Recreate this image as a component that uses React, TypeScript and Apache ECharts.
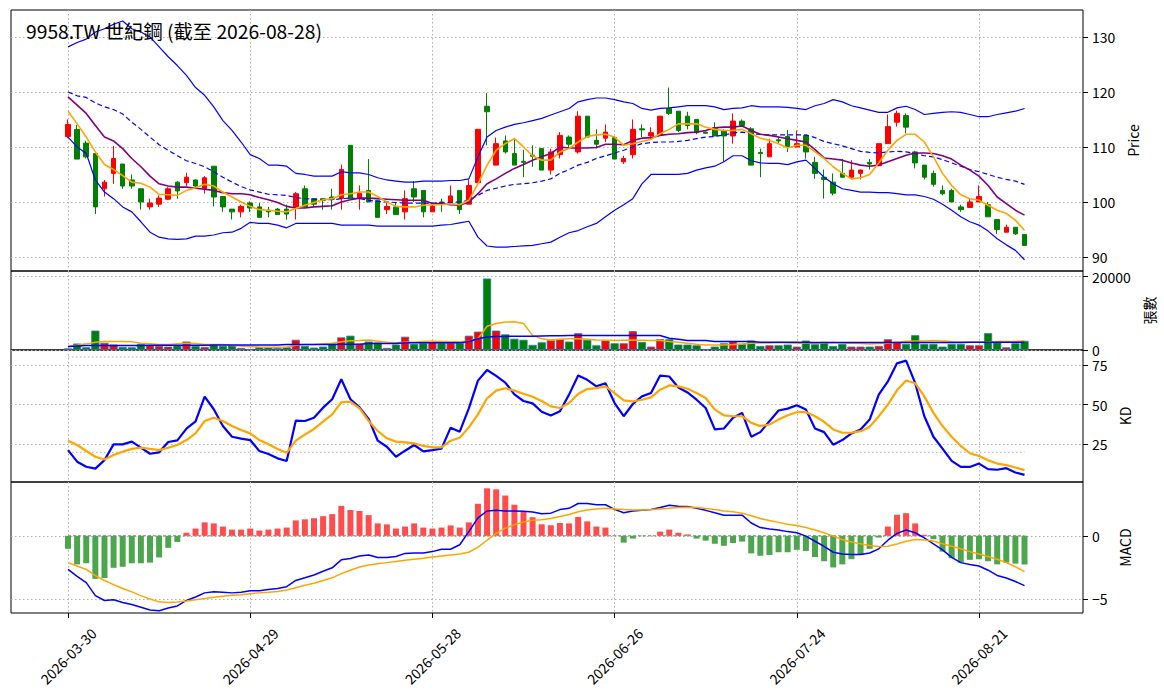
import React, { useEffect, useRef } from "react";
import * as echarts from "echarts";

// ---------- categories (trading days) ----------
const MONTH_DAYS: [string, number[]][] = [
  ["03", [30, 31]],
  ["04", [1, 2, 7, 8, 9, 10, 13, 14, 15, 16, 17, 20, 21, 22, 23, 24, 27, 28, 29, 30]],
  ["05", [4, 5, 6, 7, 8, 11, 12, 13, 14, 15, 18, 19, 20, 21, 22, 25, 26, 27, 28, 29]],
  ["06", [1, 2, 3, 4, 5, 8, 9, 10, 11, 12, 15, 16, 17, 18, 22, 23, 24, 25, 26, 29, 30]],
  ["07", [1, 2, 3, 6, 7, 8, 9, 10, 13, 14, 15, 16, 17, 20, 21, 22, 23, 24, 27, 28, 29, 30, 31]],
  ["08", [3, 4, 5, 6, 7, 10, 11, 12, 13, 14, 17, 18, 19, 20, 21, 24, 25, 26, 27, 28]],
];
const DATES: string[] = MONTH_DAYS.flatMap(([m, ds]) =>
  ds.map((d) => `2026-${m}-${String(d).padStart(2, "0")}`)
);
const X_TICKS = [0, 20, 40, 60, 80, 100];

const TITLE = "9958.TW 世紀鋼 (截至 2026-08-28)";
const PRICE_TICKS = [90, 100, 110, 120, 130];
const VOL_TICKS = [0, 20000];
const KD_TICKS = [25, 50, 75];
const MACD_TICKS = [-5, 0];

// ---------- price ----------
const OPEN = [
  111.9, 113.2, 110.7, 108.8, 102.4, 105.2, 106.9, 104.0, 102.4, 99.1,
  99.6, 100.5, 103.6, 103.5, 104.0, 102.4, 106.5, 101.0, 98.7, 98.2,
  99.8, 99.1, 98.5, 98.7, 98.7, 99.1, 102.4, 100.6, 100.6, 100.9,
  100.6, 110.3, 100.6, 102.1, 100.3, 98.6, 99.1, 98.2, 102.4, 102.1,
  98.2, 100.0, 100.0, 102.1, 99.6, 103.5, 117.4, 106.7, 111.1, 108.8,
  107.4, 108.5, 109.7, 105.8, 108.6, 111.8, 109.1, 115.6, 111.2, 111.6,
  111.7, 107.3, 108.6, 113.3, 112.0, 112.1, 117.0, 116.5, 115.6, 115.0,
  112.7, 113.5, 112.9, 112.0, 114.7, 113.3, 109.0, 108.2, 111.3, 111.9,
  110.0, 112.1, 107.2, 104.5, 103.6, 105.2, 104.5, 105.2, 107.2, 106.6,
  110.6, 114.5, 115.7, 109.1, 106.7, 105.2, 102.1, 102.1, 99.1, 99.0,
  100.0, 99.5, 96.8, 94.5, 95.4, 94.1,
];
const CLOSE = [
  114.1, 107.8, 108.2, 99.1, 103.6, 107.9, 102.9, 102.9, 100.0, 99.8,
  100.7, 102.4, 102.0, 104.5, 102.9, 104.4, 100.9, 99.1, 98.2, 99.2,
  98.9, 97.2, 98.2, 97.7, 97.8, 101.5, 99.1, 99.6, 100.3, 100.5,
  105.9, 100.6, 101.6, 100.0, 97.2, 99.2, 97.7, 100.6, 100.9, 98.2,
  99.2, 99.7, 101.1, 98.6, 103.0, 113.2, 116.4, 110.6, 109.1, 106.7,
  107.2, 108.3, 105.8, 109.1, 112.1, 110.5, 115.6, 111.8, 110.5, 112.7,
  107.8, 107.9, 113.2, 113.1, 112.6, 115.6, 116.1, 113.0, 113.9, 112.6,
  112.5, 112.0, 112.0, 114.7, 113.9, 106.7, 108.8, 110.6, 111.1, 110.0,
  110.6, 109.1, 105.2, 104.1, 101.6, 104.5, 105.8, 105.8, 106.9, 110.6,
  113.7, 116.1, 113.6, 107.1, 104.5, 103.2, 101.5, 100.0, 98.6, 100.0,
  101.0, 97.3, 95.0, 95.4, 94.2, 92.1,
];
const LOW = [
  111.6, 107.8, 107.9, 97.8, 101.0, 103.3, 102.4, 102.4, 98.6, 98.6,
  99.1, 100.4, 100.6, 102.9, 102.6, 101.5, 99.2, 98.2, 96.8, 97.2,
  98.2, 97.2, 97.2, 97.7, 96.8, 96.8, 99.0, 99.1, 98.6, 98.6,
  98.6, 100.6, 98.6, 100.0, 97.2, 97.8, 97.6, 96.8, 100.0, 97.2,
  98.2, 98.2, 99.7, 97.8, 99.6, 103.5, 110.3, 106.7, 108.8, 106.7,
  104.5, 106.4, 105.8, 105.0, 107.9, 110.0, 108.8, 111.8, 109.7, 110.9,
  107.8, 106.9, 107.9, 111.8, 111.5, 112.1, 115.8, 112.7, 113.2, 112.3,
  112.4, 112.0, 107.3, 110.6, 113.6, 106.6, 104.5, 108.2, 110.6, 109.1,
  110.0, 107.9, 104.2, 100.6, 101.2, 104.5, 104.1, 104.1, 105.9, 106.5,
  110.6, 113.7, 112.5, 106.1, 104.1, 102.8, 101.2, 100.0, 98.2, 99.0,
  100.0, 97.3, 94.2, 94.5, 94.0, 92.1,
];
const HIGH = [
  115.0, 114.0, 111.1, 109.0, 104.0, 110.2, 106.9, 105.0, 102.4, 100.6,
  101.2, 102.7, 103.8, 105.3, 104.1, 104.7, 106.5, 101.0, 98.7, 99.5,
  100.1, 99.8, 99.1, 98.9, 99.5, 101.8, 103.0, 100.7, 100.7, 102.4,
  106.8, 110.3, 103.0, 107.8, 100.3, 100.0, 99.8, 102.1, 103.8, 102.1,
  99.7, 100.6, 103.0, 102.1, 104.1, 113.2, 119.8, 111.7, 112.1, 111.5,
  109.5, 110.3, 109.7, 109.7, 112.7, 112.1, 116.5, 115.6, 113.2, 114.1,
  112.0, 108.4, 115.0, 114.1, 113.6, 115.6, 120.8, 116.5, 116.4, 115.0,
  112.8, 114.5, 113.2, 116.1, 115.0, 113.6, 109.7, 111.5, 111.8, 113.1,
  113.0, 112.1, 108.2, 105.9, 105.2, 107.8, 107.6, 105.9, 107.8, 110.6,
  115.9, 116.6, 116.1, 109.3, 106.7, 105.7, 103.0, 102.4, 99.5, 100.6,
  103.0, 100.0, 96.8, 95.9, 95.4, 94.1,
];
const MA5 = [
  116.5, 114.2, 111.8, 109.1, 106.8, 105.9, 104.8, 103.6, 103.4, 102.7,
  101.4, 101.3, 101.2, 102.1, 102.6, 103.2, 102.9, 101.8, 100.9, 100.0,
  99.2, 98.6, 98.5, 98.3, 98.2, 98.8, 99.4, 99.9, 100.4, 100.6,
  101.3, 101.5, 101.8, 101.8, 101.0, 100.0, 99.2, 99.1, 99.1, 99.4,
  99.5, 99.5, 99.7, 99.5, 100.3, 103.3, 106.7, 109.4, 110.6, 111.5,
  110.0, 108.4, 107.6, 107.6, 109.1, 109.7, 110.9, 111.9, 112.2, 112.3,
  111.8, 110.3, 110.6, 111.0, 111.4, 112.4, 113.2, 114.2, 114.2, 114.2,
  113.6, 113.2, 113.0, 113.0, 113.2, 112.4, 111.6, 111.2, 110.6, 109.8,
  110.3, 110.3, 109.1, 107.9, 106.4, 105.2, 104.2, 104.4, 105.0, 107.1,
  109.4, 111.2, 112.3, 112.3, 110.9, 108.2, 105.2, 103.0, 101.3, 100.6,
  100.3, 99.4, 98.5, 97.9, 96.7, 94.8,
];
const MA10 = [
  119.1, 117.6, 116.1, 113.9, 111.8, 111.1, 109.7, 107.9, 106.4, 104.7,
  103.3, 102.9, 102.7, 102.7, 102.5, 102.3, 102.1, 101.7, 101.5, 101.5,
  101.3, 100.8, 100.4, 99.9, 99.2, 98.9, 98.9, 99.1, 99.2, 99.3,
  100.0, 100.4, 100.7, 100.7, 100.6, 100.5, 100.4, 100.3, 100.3, 100.3,
  99.7, 99.7, 99.5, 99.4, 100.0, 101.5, 103.3, 104.2, 105.2, 106.1,
  106.8, 107.6, 108.2, 108.8, 110.0, 109.8, 109.8, 109.8, 109.9, 110.5,
  110.5, 110.4, 111.2, 111.6, 111.7, 112.1, 112.3, 112.4, 112.6, 112.7,
  113.0, 113.5, 113.6, 113.6, 113.8, 113.0, 112.3, 112.1, 111.8, 111.5,
  111.2, 110.9, 109.5, 108.0, 107.8, 107.6, 107.1, 106.7, 106.5, 106.7,
  107.3, 107.9, 108.5, 108.9, 108.9, 108.8, 108.4, 107.8, 106.7, 105.8,
  104.7, 103.0, 100.9, 99.7, 98.5, 97.6,
];
const BB_MID = [
  120.0, 119.3, 119.0, 118.0, 117.3, 116.8, 116.0, 114.5, 113.2, 111.8,
  110.4, 109.4, 108.4, 107.5, 107.0, 106.4, 105.5, 104.5, 103.6, 102.8,
  102.2, 101.8, 101.4, 101.3, 101.2, 100.8, 100.6, 100.5, 100.4, 100.4,
  100.6, 100.7, 100.6, 100.3, 100.1, 100.0, 99.9, 99.8, 99.8, 99.8,
  99.8, 99.8, 99.9, 100.0, 100.3, 101.2, 102.1, 102.5, 102.9, 103.2,
  103.3, 103.5, 103.8, 104.2, 105.2, 105.9, 106.7, 107.2, 107.9, 108.4,
  108.9, 109.4, 110.0, 110.6, 110.8, 110.9, 110.9, 111.0, 111.2, 111.5,
  111.8, 111.9, 112.2, 112.5, 112.7, 112.4, 112.3, 112.2, 112.2, 112.2,
  112.2, 112.2, 111.7, 111.0, 110.6, 110.2, 109.7, 109.2, 109.0, 108.9,
  109.1, 109.2, 109.1, 108.8, 108.4, 108.2, 107.7, 107.1, 106.5, 105.9,
  105.5, 105.0, 104.5, 104.1, 103.8, 103.2,
];
const BB_UP = [
  128.2, 129.0, 129.6, 130.9, 131.5, 132.3, 132.9, 131.5, 130.9, 130.0,
  128.2, 126.4, 124.8, 123.0, 120.8, 119.4, 117.3, 114.8, 113.0, 110.9,
  108.6, 107.9, 106.7, 106.7, 106.5, 105.2, 105.0, 104.7, 104.7, 104.7,
  105.5, 105.3, 105.3, 105.0, 104.4, 104.0, 103.8, 103.6, 103.6, 103.8,
  103.8, 103.8, 103.9, 103.9, 104.2, 108.2, 111.8, 113.0, 113.6, 114.1,
  114.4, 114.8, 115.2, 115.8, 116.4, 117.0, 118.2, 118.6, 118.9, 118.9,
  118.6, 118.2, 117.9, 117.0, 116.7, 117.0, 117.1, 117.3, 117.5, 117.5,
  117.5, 117.3, 116.8, 117.0, 117.1, 117.5, 117.3, 117.3, 117.3, 117.2,
  117.0, 116.8, 117.5, 117.9, 118.6, 118.2, 117.5, 117.1, 116.7, 116.3,
  116.3, 117.1, 117.4, 116.8, 115.9, 116.1, 116.3, 116.4, 116.3, 115.9,
  115.5, 115.5, 115.9, 116.2, 116.5, 117.0,
];
const BB_LOW = [
  111.8, 110.0, 108.8, 104.0, 101.8, 100.6, 99.1, 98.2, 96.4, 94.5,
  93.6, 93.3, 93.2, 93.3, 93.8, 93.8, 94.0, 94.4, 94.5, 95.2,
  96.3, 96.1, 96.1, 95.8, 95.3, 96.1, 96.1, 96.1, 96.1, 96.1,
  95.8, 95.8, 95.8, 95.8, 95.6, 95.6, 95.6, 95.6, 95.6, 95.6,
  95.6, 95.8, 95.9, 96.2, 96.5, 93.6, 92.0, 91.8, 91.8, 91.9,
  92.0, 92.1, 92.4, 92.7, 93.6, 94.4, 94.8, 95.5, 96.1, 97.3,
  98.5, 99.5, 100.6, 103.3, 105.0, 105.0, 105.0, 105.0, 105.2, 105.8,
  106.2, 106.5, 107.3, 108.4, 108.4, 107.5, 107.1, 107.0, 107.0, 106.8,
  107.3, 107.6, 106.1, 104.5, 103.3, 102.4, 102.1, 101.8, 101.8, 101.7,
  101.7, 101.5, 101.3, 101.3, 101.0, 100.5, 99.6, 98.5, 97.3, 96.4,
  95.8, 94.7, 93.3, 92.2, 91.2, 89.5,
];

// ---------- volume (張) ----------
const VOLUME = [
  450, 1760, 740, 5280, 1950, 1480, 830, 740, 1670, 1300,
  1110, 930, 1200, 2300, 1110, 830, 1570, 1110, 1200, 560,
  300, 740, 740, 560, 740, 2780, 1110, 650, 930, 1670,
  3430, 3890, 1670, 2300, 2040, 560, 1480, 3610, 1670, 1850,
  2410, 1950, 1950, 1950, 3890, 5000, 19450, 5280, 4260, 3060,
  2780, 1390, 2100, 2650, 2930, 2290, 4590, 2750, 1280, 2570,
  1830, 1830, 5140, 2200, 920, 2930, 2930, 1470, 1470, 1280,
  280, 920, 1830, 2380, 1650, 2570, 1100, 1280, 1280, 1470,
  920, 2570, 1560, 2200, 1100, 1650, 920, 920, 920, 1100,
  2930, 2200, 1650, 4030, 1650, 1650, 920, 1650, 1650, 1280,
  1280, 4590, 2020, 730, 1830, 2480,
];
const VOL_MA5 = [
  930, 1300, 1670, 2130, 2320, 2320, 2320, 2220, 1850, 1670,
  1480, 1480, 1670, 1850, 1760, 1480, 1480, 1480, 1200, 1110,
  930, 830, 740, 740, 830, 1300, 1480, 1480, 1670, 1850,
  2220, 2500, 2590, 2690, 2410, 2130, 1940, 2130, 2130, 2320,
  2410, 2320, 2220, 2220, 2410, 3060, 6480, 7220, 7590, 7690,
  7220, 3980, 3060, 2750, 2930, 3030, 3030, 2930, 2750, 2660,
  2570, 2660, 2750, 2660, 2570, 2570, 2290, 2110, 1830, 1560,
  1380, 1380, 1380, 1470, 1650, 1830, 1920, 1920, 2020, 1920,
  1830, 1830, 1830, 1920, 2020, 1920, 1830, 1740, 1650, 1740,
  1830, 2110, 2380, 2480, 2480, 2570, 2480, 2290, 2200, 2110,
  2110, 2200, 2290, 2290, 2380, 2480,
];
const VOL_MA20 = [
  930, 1110, 1200, 1200, 1200, 1200, 1200, 1200, 1200, 1300,
  1300, 1300, 1300, 1300, 1300, 1300, 1390, 1390, 1390, 1390,
  1390, 1390, 1390, 1390, 1480, 1480, 1480, 1480, 1480, 1480,
  1570, 1570, 1570, 1760, 1760, 1760, 1760, 1940, 1940, 1940,
  1940, 1940, 1940, 1940, 2320, 3060, 3520, 3700, 3700, 3750,
  3750, 3750, 3800, 3850, 3900, 3940, 3940, 3940, 3940, 3940,
  3940, 3940, 3940, 3940, 3940, 3940, 3210, 2930, 2570, 2570,
  2570, 2290, 2290, 2290, 2290, 2290, 2110, 2110, 2110, 2110,
  2110, 2020, 2020, 2020, 2020, 2020, 2020, 2020, 2020, 2020,
  2020, 2020, 2020, 2020, 2020, 2020, 2020, 2020, 2020, 2110,
  2110, 2110, 2110, 2110, 2110, 2110,
];

// ---------- KD ----------
const K = [
  21.4, 14.1, 10.9, 9.7, 15.1, 25.0, 25.0, 26.7, 22.9, 19.1,
  20.0, 26.5, 27.5, 34.9, 39.5, 55.0, 47.1, 36.6, 29.8, 28.6,
  27.7, 20.8, 18.9, 16.2, 14.5, 39.9, 39.7, 41.8, 48.1, 53.4,
  66.0, 53.4, 48.3, 41.0, 27.3, 23.5, 17.2, 21.0, 24.6, 20.6,
  21.4, 22.3, 35.5, 33.0, 47.7, 65.1, 71.8, 68.1, 63.9, 56.5,
  52.3, 50.8, 45.5, 43.2, 45.8, 56.3, 68.3, 65.6, 61.5, 63.5,
  51.0, 42.7, 50.4, 55.2, 57.3, 68.3, 67.7, 60.8, 57.7, 53.1,
  47.9, 34.4, 35.0, 41.7, 44.8, 29.8, 32.7, 39.6, 46.3, 47.5,
  49.6, 46.9, 35.0, 32.7, 24.8, 27.7, 31.9, 34.4, 40.6, 56.3,
  64.6, 76.0, 77.7, 63.5, 42.7, 29.8, 22.3, 14.6, 10.8, 10.8,
  12.9, 9.4, 9.0, 10.0, 7.3, 5.8,
];
const D = [
  27.3, 24.6, 20.8, 17.2, 15.5, 18.3, 20.4, 22.1, 22.9, 22.1,
  21.4, 22.9, 24.6, 27.7, 31.9, 39.7, 41.8, 39.7, 36.6, 34.0,
  31.9, 27.7, 25.0, 22.1, 19.7, 27.3, 31.1, 34.7, 39.3, 43.9,
  51.5, 51.9, 47.7, 39.7, 33.4, 28.8, 26.7, 26.3, 25.6, 24.0,
  23.1, 23.1, 27.3, 29.2, 35.7, 43.9, 54.0, 58.8, 60.3, 58.8,
  56.9, 55.0, 52.3, 48.9, 47.9, 51.0, 56.7, 59.8, 60.4, 61.5,
  57.3, 52.7, 52.1, 53.1, 54.6, 59.4, 62.1, 61.5, 60.0, 57.3,
  54.2, 46.9, 43.3, 42.7, 42.7, 38.5, 36.5, 37.5, 40.6, 43.3,
  45.2, 45.4, 42.7, 39.2, 34.4, 32.3, 32.3, 33.3, 36.0, 42.7,
  50.0, 59.0, 65.2, 63.5, 55.2, 44.8, 36.5, 29.8, 24.0, 19.4,
  17.7, 15.0, 12.9, 11.9, 10.4, 8.8,
];
const KD_REF = [80, 20];

// ---------- MACD ----------
const HIST = [
  -1.03, -2.26, -2.17, -3.4, -3.34, -2.53, -2.45, -2.17, -2.17, -2.12,
  -1.71, -0.95, -0.49, 0.24, 0.57, 1.06, 0.98, 0.73, 0.49, 0.49,
  0.57, 0.41, 0.49, 0.57, 0.65, 1.22, 1.3, 1.39, 1.55, 1.71,
  2.36, 2.04, 1.96, 1.63, 0.98, 0.9, 0.57, 0.73, 0.98, 0.65,
  0.57, 0.65, 0.82, 0.65, 1.06, 2.53, 3.75, 3.67, 3.18, 2.45,
  1.88, 1.47, 0.91, 0.83, 1.01, 0.98, 1.49, 1.14, 0.73, 0.65,
  0.02, -0.54, -0.22, -0.03, 0.02, 0.33, 0.49, 0.24, 0.11, -0.22,
  -0.38, -0.63, -0.79, -0.57, -0.46, -1.39, -1.58, -1.52, -1.3, -1.3,
  -1.11, -1.2, -1.68, -2.01, -2.5, -2.26, -1.85, -1.52, -1.03, -0.14,
  0.73, 1.66, 1.79, 0.98, 0.08, -0.27, -1.25, -1.77, -2.12, -1.9,
  -1.85, -2.01, -2.26, -2.12, -2.2, -2.26,
];
const DIF = [
  -2.66, -3.21, -3.7, -4.73, -5.11, -5.05, -5.27, -5.43, -5.65, -5.87,
  -5.92, -5.71, -5.54, -5.11, -4.84, -4.51, -4.43, -4.46, -4.51, -4.46,
  -4.35, -4.35, -4.24, -4.16, -4.02, -3.53, -3.32, -3.1, -2.8, -2.53,
  -1.9, -1.79, -1.6, -1.52, -1.71, -1.71, -1.63, -1.39, -1.36, -1.36,
  -1.25, -1.06, -1.06, -0.71, 0.33, 1.41, 1.96, 2.01, 1.96, 1.96,
  1.93, 1.88, 1.74, 1.79, 2.07, 2.17, 2.55, 2.55, 2.45, 2.45,
  2.09, 1.82, 1.96, 2.01, 2.07, 2.23, 2.42, 2.34, 2.31, 2.17,
  2.01, 1.82, 1.63, 1.63, 1.63, 1.01, 0.65, 0.54, 0.46, 0.33,
  0.24, -0.03, -0.43, -0.84, -1.3, -1.44, -1.47, -1.47, -1.36, -1.03,
  -0.35, 0.19, 0.46, 0.24, -0.16, -0.63, -1.11, -1.71, -2.12, -2.26,
  -2.39, -2.72, -3.13, -3.34, -3.61, -3.94,
];
const DEA = [
  -2.12, -2.39, -2.66, -3.15, -3.53, -3.86, -4.16, -4.43, -4.73, -5.0,
  -5.22, -5.27, -5.24, -5.16, -5.05, -4.95, -4.86, -4.78, -4.7, -4.65,
  -4.57, -4.51, -4.46, -4.4, -4.29, -4.1, -3.91, -3.75, -3.53, -3.32,
  -2.99, -2.72, -2.47, -2.31, -2.2, -2.12, -2.04, -1.93, -1.85, -1.77,
  -1.68, -1.6, -1.52, -1.44, -1.3, -0.9, -0.35, 0.19, 0.6, 0.87,
  1.09, 1.22, 1.26, 1.37, 1.52, 1.68, 1.9, 2.04, 2.12, 2.17,
  2.12, 2.07, 2.04, 2.04, 2.07, 2.12, 2.17, 2.23, 2.26, 2.23,
  2.15, 2.07, 1.96, 1.9, 1.79, 1.58, 1.36, 1.2, 1.06, 0.92,
  0.82, 0.65, 0.46, 0.24, -0.03, -0.3, -0.49, -0.63, -0.76, -0.84,
  -0.82, -0.65, -0.43, -0.3, -0.33, -0.41, -0.63, -0.82, -1.03, -1.25,
  -1.44, -1.63, -1.85, -2.12, -2.45, -2.83,
];

// ---------- layout / style ----------
const FONT = '"Noto Sans CJK TC", "Noto Sans", sans-serif';
const X_MIN = -6.26;
const X_MAX = 111.42;
const GRID_LEFT = 11;
const GRID_WIDTH = 1072;
const PANELS = [
  { top: 10, height: 261 },
  { top: 271, height: 79 },
  { top: 350, height: 132 },
  { top: 482, height: 131 },
];
const GRID_LINE_STYLE = { color: "#b0b0b0", type: [1.5, 2.5] as number[], width: 1 };

const pair = (arr: number[]) => arr.map((v, i) => [i, v]);

function lineSeries(
  data: number[],
  axis: number,
  color: string,
  width: number,
  type: any = "solid",
  z = 3
) {
  return {
    type: "line",
    xAxisIndex: axis,
    yAxisIndex: axis,
    data: pair(data),
    showSymbol: false,
    symbol: "none",
    silent: true,
    z,
    lineStyle: { color, width, type },
    itemStyle: { color },
  };
}

function yAxis(
  gridIndex: number,
  min: number,
  max: number,
  ticks: number[],
  name: string,
  nameGap: number,
  fmt?: (v: number) => string
) {
  return {
    type: "value",
    gridIndex,
    position: "right",
    min,
    max,
    name,
    nameLocation: "middle",
    nameRotate: 90,
    nameGap,
    nameTextStyle: { fontSize: 14, color: "#000", fontFamily: FONT },
    axisLine: { show: false, onZero: false },
    axisTick: {
      show: true,
      customValues: ticks,
      length: 5,
      lineStyle: { color: "#000", width: 1 },
    },
    axisLabel: {
      show: true,
      customValues: ticks,
      margin: 9,
      fontSize: 14,
      color: "#000",
      fontFamily: FONT,
      formatter: fmt || ((v: number) => String(v)),
    },
    splitLine: { show: true, lineStyle: GRID_LINE_STYLE },
  };
}

function buildOption() {
  const grids = PANELS.map((p) => ({
    left: GRID_LEFT,
    width: GRID_WIDTH,
    top: p.top,
    height: p.height,
    show: true,
    borderColor: "#000",
    borderWidth: 1,
    backgroundColor: "transparent",
    containLabel: false,
    outerBoundsMode: "none",
  }));

  const xAxes = PANELS.map((_, k) => ({
    type: "value",
    gridIndex: k,
    min: X_MIN,
    max: X_MAX,
    axisLine: { show: false, onZero: false },
    axisTick: {
      show: k === 3,
      customValues: X_TICKS,
      length: 5,
      lineStyle: { color: "#000", width: 1 },
    },
    axisLabel: {
      show: k === 3,
      customValues: X_TICKS,
      formatter: (v: number) => DATES[Math.round(v)] ?? "",
      rotate: 45,
      align: "center",
      verticalAlign: "middle",
      margin: 43,
      fontSize: 14,
      color: "#000",
      fontFamily: FONT,
    },
    splitLine: { show: true, lineStyle: GRID_LINE_STYLE },
  }));

  const yAxes = [
    yAxis(0, 87.45, 134.9, PRICE_TICKS, "Price", 38),
    yAxis(1, 0, 21500, VOL_TICKS, "張數", 55),
    yAxis(2, 1.3, 84.4, KD_TICKS, "KD", 30),
    yAxis(3, -6.1, 4.25, MACD_TICKS, "MACD", 30, (v: number) =>
      v < 0 ? "\u2212" + Math.abs(v) : String(v)
    ),
  ];

  const series: any[] = [
    {
      type: "candlestick",
      xAxisIndex: 0,
      yAxisIndex: 0,
      barWidth: 5,
      silent: true,
      z: 2,
      data: DATES.map((_, i) => [i, OPEN[i], CLOSE[i], LOW[i], HIGH[i]]),
      itemStyle: {
        color: "#ff0000",
        color0: "#008000",
        borderColor: "#ff0000",
        borderColor0: "#008000",
        borderWidth: 1,
      },
    },
    lineSeries(BB_UP, 0, "#0000ff", 1.2),
    lineSeries(BB_MID, 0, "#0000ff", 1.2, [5, 3]),
    lineSeries(BB_LOW, 0, "#0000ff", 1.2),
    lineSeries(MA10, 0, "#800080", 1.6),
    lineSeries(MA5, 0, "#ffa500", 1.6),
    {
      type: "bar",
      xAxisIndex: 1,
      yAxisIndex: 1,
      barWidth: 8.2,
      silent: true,
      z: 2,
      data: VOLUME.map((v, i) => ({
        value: [i, v],
        itemStyle: {
          color: CLOSE[i] >= OPEN[i] ? "#ff0000" : "#008000",
          borderColor: "#2c7bb6",
          borderWidth: 0.8,
        },
      })),
    },
    lineSeries(VOL_MA5, 1, "#ffa500", 1.5),
    lineSeries(VOL_MA20, 1, "#0000ff", 1.5),
    ...KD_REF.map((lv) => ({
      type: "line",
      xAxisIndex: 2,
      yAxisIndex: 2,
      data: [
        [0, lv],
        [DATES.length - 1, lv],
      ],
      showSymbol: false,
      symbol: "none",
      silent: true,
      z: 1,
      lineStyle: { color: "#b0b0b0", width: 1, type: [1.5, 2.5] },
    })),
    lineSeries(K, 2, "#0000ff", 2.2),
    lineSeries(D, 2, "#ffa500", 2.2),
    {
      type: "bar",
      xAxisIndex: 3,
      yAxisIndex: 3,
      barWidth: 6,
      silent: true,
      z: 2,
      data: HIST.map((v, i) => ({
        value: [i, v],
        itemStyle: { color: v >= 0 ? "#ff4d4d" : "#4da64d" },
      })),
    },
    {
      type: "line",
      xAxisIndex: 3,
      yAxisIndex: 3,
      data: [
        [0, 0],
        [DATES.length - 1, 0],
      ],
      showSymbol: false,
      symbol: "none",
      silent: true,
      z: 1,
      lineStyle: { color: "#808080", width: 1, type: [3, 2] },
    },
    lineSeries(DIF, 3, "#0000ff", 1.5),
    lineSeries(DEA, 3, "#ffa500", 1.5),
  ];

  return {
    animation: false,
    backgroundColor: "#ffffff",
    textStyle: { fontFamily: FONT },
    grid: grids,
    xAxis: xAxes,
    yAxis: yAxes,
    series,
    graphic: [
      {
        type: "text",
        x: 26,
        y: 31,
        z: 100,
        style: {
          text: TITLE,
          fontSize: 19.3,
          fontFamily: FONT,
          fill: "#000",
          align: "left",
          verticalAlign: "middle",
        },
      },
    ],
  };
}

export default function App() {
  const ref = useRef<HTMLDivElement>(null);
  useEffect(() => {
    document.body.style.margin = "0";
    const el = ref.current;
    if (!el) return;
    const chart = echarts.init(el, undefined, { renderer: "svg" });
    chart.setOption(buildOption() as any);
    return () => {
      chart.dispose();
    };
  }, []);
  return (
    <div
      ref={ref}
      style={{ width: 1164, height: 698, background: "#fff", overflow: "hidden" }}
    />
  );
}
